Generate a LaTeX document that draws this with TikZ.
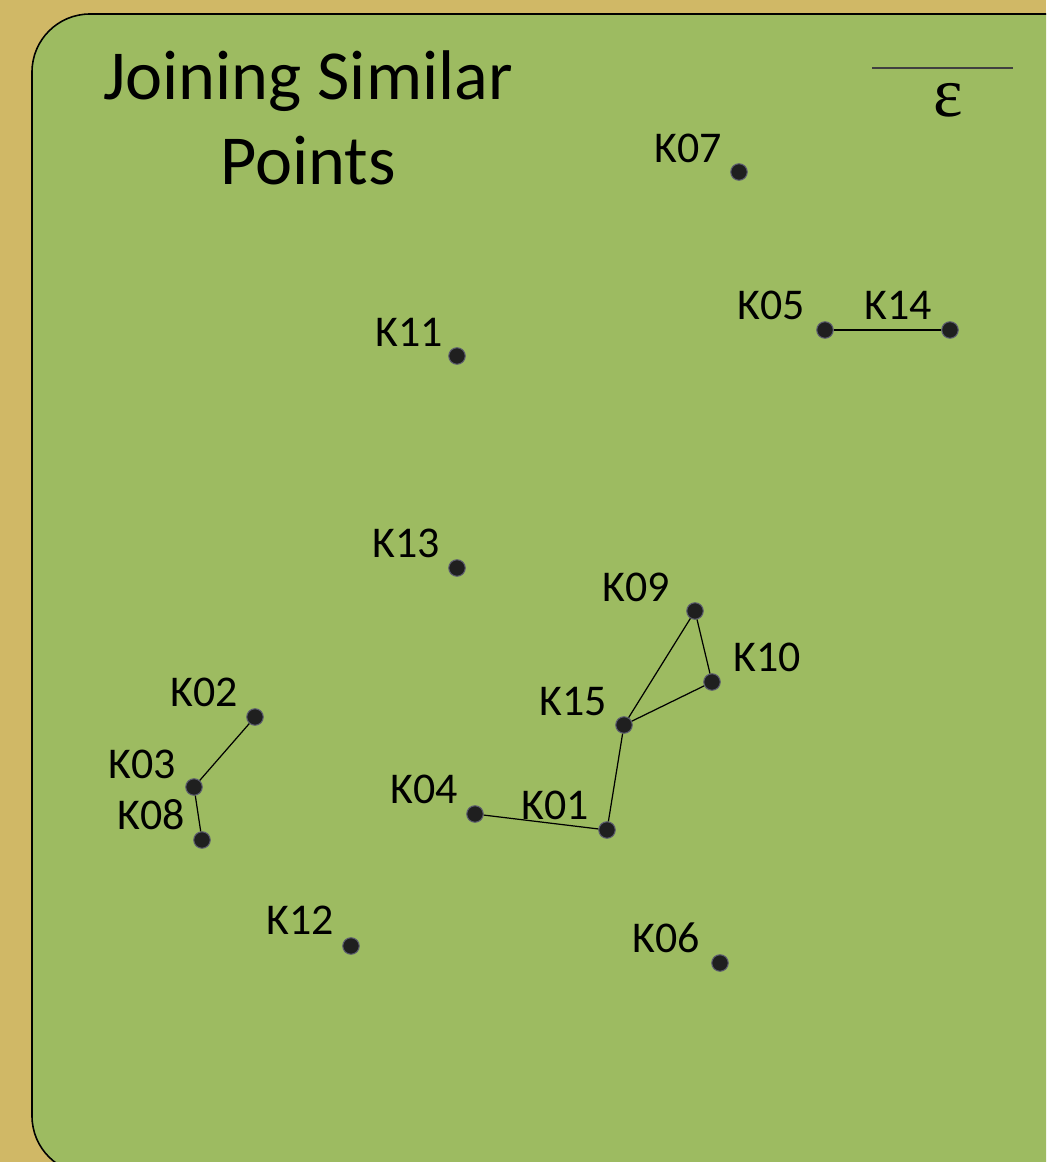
\documentclass[tikz,border=0pt]{standalone}
\usepackage{fontspec}
\setmainfont{Carlito}
\newfontfamily\greekfont{Liberation Serif}
\definecolor{sand}{HTML}{D0B866}
\definecolor{leaf}{HTML}{9DBB61}
\definecolor{dotedge}{HTML}{5A5A6E}

\begin{document}
\begin{tikzpicture}[x=0.02cm, y=-0.02cm,
    pt/.style={circle, draw=dotedge, fill=black!88, line width=0.6pt, inner sep=0pt, minimum size=0.33cm},
    lbl/.style={inner sep=0pt, font=\fontsize{25}{30}\selectfont},
    link/.style={line width=0.7pt}
]
    \path[use as bounding box, clip] (0,0) rectangle (1046,1162);
    \fill[sand] (0,0) rectangle (1046,1162);
    \draw[fill=leaf, line width=0.9pt, rounded corners=1.16cm] (32,14) rectangle (1110,1174);

    % title and epsilon
    \node[align=center, inner sep=0pt, font=\fontsize{40}{48}\selectfont] (title) at (308,118) {Joining Similar\\Points};
    \draw[line width=0.8pt, black!75] (872,68) -- (1013,68);
    \node[inner sep=0pt, font=\greekfont\fontsize{40}{44}\selectfont] (eps) at (948,100) {ε};

    % points
    \node[pt] (K01) at (607,830) {};
    \node[pt] (K02) at (255,717) {};
    \node[pt] (K03) at (194,787) {};
    \node[pt] (K04) at (475,814) {};
    \node[pt] (K05) at (825,330) {};
    \node[pt] (K06) at (720,963) {};
    \node[pt] (K07) at (739,172) {};
    \node[pt] (K08) at (202,840) {};
    \node[pt] (K09) at (695,611) {};
    \node[pt] (K10) at (712,682) {};
    \node[pt] (K11) at (457,356) {};
    \node[pt] (K12) at (351,946) {};
    \node[pt] (K13) at (457,568) {};
    \node[pt] (K14) at (950,330) {};
    \node[pt] (K15) at (624,725) {};

    % labels
    \node[lbl] (lK01) at (555,805) {K01};
    \node[lbl] (lK02) at (204,692) {K02};
    \node[lbl] (lK03) at (142,764) {K03};
    \node[lbl] (lK04) at (424,789) {K04};
    \node[lbl] (lK05) at (771,305) {K05};
    \node[lbl] (lK06) at (666,938) {K06};
    \node[lbl] (lK07) at (688,148) {K07};
    \node[lbl] (lK08) at (151,815) {K08};
    \node[lbl] (lK09) at (636,587) {K09};
    \node[lbl] (lK10) at (767,657) {K10};
    \node[lbl] (lK11) at (409,332) {K11};
    \node[lbl] (lK12) at (300,920) {K12};
    \node[lbl] (lK13) at (406,543) {K13};
    \node[lbl] (lK14) at (898,305) {K14};
    \node[lbl] (lK15) at (573,702) {K15};

    % joins
    \draw[link] (K05) -- (K14);
    \draw[link] (K02) -- (K03);
    \draw[link] (K03) -- (K08);
    \draw[link] (K04) -- (K01);
    \draw[link] (K01) -- (K15);
    \draw[link] (K15) -- (K09);
    \draw[link] (K09) -- (K10);
    \draw[link] (K10) -- (K15);
\end{tikzpicture}
\end{document}
